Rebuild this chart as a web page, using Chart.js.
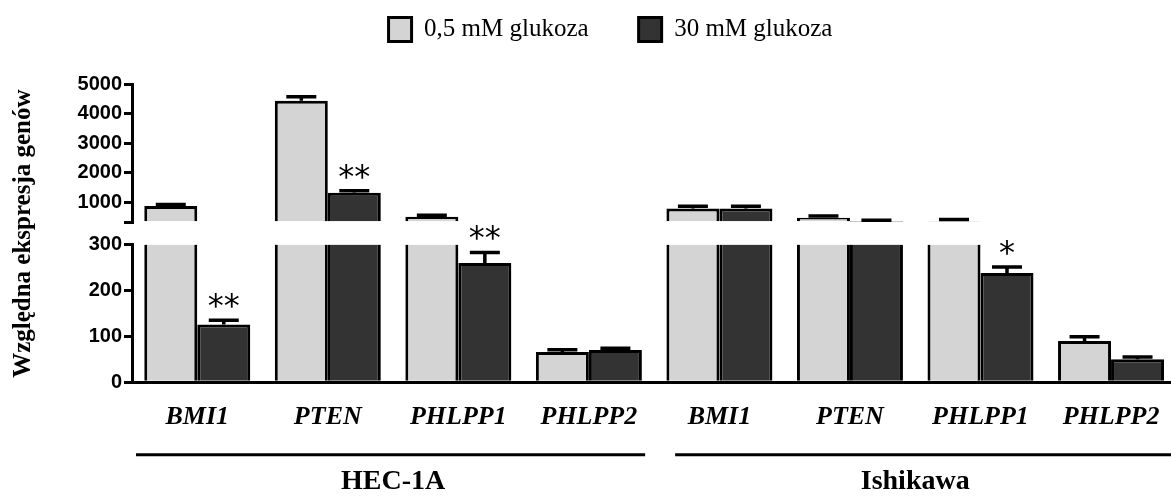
<!DOCTYPE html>
<html lang="pl">
<head>
<meta charset="utf-8">
<title>Względna ekspresja genów</title>
<script src="https://cdn.jsdelivr.net/npm/chart.js@4.4.1/dist/chart.umd.min.js"></script>
<style>
  html, body { margin: 0; padding: 0; background: #fff; overflow: hidden; }
  #wrap { width: 1221px; height: 499px; }
</style>
</head>
<body>
<div id="wrap"><canvas id="chart" width="1221" height="499"></canvas></div>
<script>
// ---- data ----
const cellLines = ['HEC-1A', 'Ishikawa'];
const genes = ['BMI1', 'PTEN', 'PHLPP1', 'PHLPP2'];
const categories = cellLines.flatMap(() => genes);

const seriesNames = ['0,5 mM glukoza', '30 mM glukoza'];
const lowGlucose     = [870, 4450, 500, 66, 780, 465, 355, 90];
const lowGlucoseErr  = [50, 135, 55, 5, 75, 65, 55, 9];
const highGlucose    = [126, 1320, 260, 70, 785, 335, 238, 50];
const highGlucoseErr = [9, 65, 23, 4, 70, 45, 13, 5];
const highGlucoseSig = ['**', '**', '**', '', '', '', '*', ''];

const axisBreak = 300;
const lowerTicks = [0, 100, 200, 300];
const upperTicks = [300, 1000, 2000, 3000, 4000, 5000];

// ---- styling ----
const series = [lowGlucose, highGlucose];
const errors = [lowGlucoseErr, highGlucoseErr];
const fills = ['#d4d4d4', '#333333'];
const INK = '#000000';
const BORDER = 3;

const tickFont = { family: '"Liberation Sans", Arial, sans-serif', size: 20, weight: 'bold' };
const serif = '"Liberation Serif", "Times New Roman", serif';

// lower segment (0..break) and upper segment (break..max) of each series
const datasets = [];
series.forEach((vals, s) => {
  datasets.push({
    label: seriesNames[s],
    data: vals.map(v => Math.min(v, axisBreak)),
    yAxisID: 'yLow',
    stack: 'series' + s,
    backgroundColor: fills[s],
    borderColor: INK,
    borderSkipped: false,
    borderWidth: ctx => ({
      top: vals[ctx.dataIndex] > axisBreak ? 0 : BORDER,
      left: BORDER, right: BORDER, bottom: 0
    })
  });
});
series.forEach((vals, s) => {
  datasets.push({
    label: seriesNames[s],
    data: vals.map(v => (v > axisBreak ? v : null)),
    yAxisID: 'yHigh',
    stack: 'series' + s,
    base: axisBreak,
    backgroundColor: fills[s],
    borderColor: INK,
    borderSkipped: false,
    borderWidth: { top: BORDER, left: BORDER, right: BORDER, bottom: 0 }
  });
});

// error whiskers and significance stars
const errorBars = {
  id: 'errorBars',
  afterDatasetsDraw(chart) {
    const { ctx } = chart;
    const low = chart.scales.yLow;
    const high = chart.scales.yHigh;
    ctx.save();
    ctx.strokeStyle = INK;
    ctx.lineWidth = 3.5;
    series.forEach((vals, s) => {
      const meta = chart.getDatasetMeta(s);
      vals.forEach((v, j) => {
        const scale = v > axisBreak ? high : low;
        const x = meta.data[j].x;
        const y0 = scale.getPixelForValue(v);
        const y1 = scale.getPixelForValue(v + errors[s][j]);
        ctx.beginPath();
        ctx.moveTo(x, y0);
        ctx.lineTo(x, y1);
        ctx.moveTo(x - 15, y1);
        ctx.lineTo(x + 15, y1);
        ctx.stroke();
        if (s === 1 && highGlucoseSig[j]) {
          ctx.fillStyle = INK;
          ctx.font = '32px "DejaVu Sans", sans-serif';
          ctx.textAlign = 'center';
          ctx.textBaseline = 'alphabetic';
          ctx.fillText(highGlucoseSig[j], x, y1 - 4);
        }
      });
    });
    ctx.restore();
  }
};

// rule under each cell line's group of genes
const cellLineRules = {
  id: 'cellLineRules',
  afterDraw(chart) {
    const { ctx } = chart;
    const x = chart.scales.x;
    const g = chart.scales.xGroup;
    const startInset = [4, 21];
    const endInset = [9, 0];
    const y = g.top + 22;
    ctx.save();
    ctx.strokeStyle = INK;
    ctx.lineWidth = 3;
    cellLines.forEach((name, i) => {
      const first = i * genes.length;
      const last = first + genes.length - 1;
      const x0 = x.getPixelForValue(first - 0.5) + startInset[i];
      const x1 = x.getPixelForValue(last + 0.5) - endInset[i];
      ctx.beginPath();
      ctx.moveTo(x0, y);
      ctx.lineTo(x1, y);
      ctx.stroke();
    });
    ctx.restore();
  }
};

const hiddenAxis = {
  display: true,
  ticks: { display: false },
  grid: { display: false, drawTicks: false },
  border: { display: false }
};

new Chart(document.getElementById('chart'), {
  type: 'bar',
  data: { labels: categories, datasets },
  options: {
    responsive: false,
    animation: false,
    events: [],
    layout: { padding: { top: -33, left: 0, right: 0, bottom: 0 } },
    datasets: { bar: { categoryPercentage: 0.812, barPercentage: 1.0 } },
    plugins: {
      tooltip: { enabled: false },
      legend: {
        position: 'top',
        align: 'center',
        labels: {
          boxWidth: 23,
          boxHeight: 24,
          padding: 50,
          color: INK,
          font: { family: serif, size: 25 },
          generateLabels: () => seriesNames.map((text, i) => ({
            text,
            fillStyle: fills[i],
            strokeStyle: INK,
            lineWidth: BORDER,
            hidden: false,
            datasetIndex: i
          }))
        }
      }
    },
    scales: {
      x: {
        type: 'category',
        position: 'bottom',
        weight: 0,
        offset: true,
        afterFit: s => { s.height = 50.6; },
        grid: { display: false, drawTicks: false },
        border: { display: true, color: INK, width: BORDER },
        ticks: {
          autoSkip: false, maxRotation: 0, padding: 19.4, color: INK,
          font: { family: serif, size: 26, weight: 'bold', style: 'italic' }
        }
      },
      xGroup: {
        type: 'category',
        axis: 'x',
        position: 'bottom',
        weight: 1,
        labels: cellLines,
        offset: true,
        afterFit: s => { s.height = 66.2; },
        grid: { display: false, drawTicks: false },
        border: { display: false },
        ticks: {
          autoSkip: false, maxRotation: 0, padding: 32.6, color: INK,
          font: { family: serif, size: 28, weight: 'bold' }
        }
      },
      xPad: Object.assign({}, hiddenAxis, {
        type: 'category', axis: 'x', position: 'top',
        afterFit: s => { s.height = 32.5; }
      }),
      yPad: Object.assign({}, hiddenAxis, {
        type: 'linear', axis: 'y', position: 'right',
        afterFit: s => { s.width = 44.7; }
      }),
      yHigh: {
        type: 'linear', axis: 'y', position: 'left',
        stack: 'value', stackWeight: 138.1, weight: 3,
        stacked: false,
        min: axisBreak, max: upperTicks[upperTicks.length - 1],
        afterBuildTicks: s => { s.ticks = upperTicks.map(value => ({ value })); },
        afterFit: s => { s.width = 132; },
        grid: { display: true, drawOnChartArea: false, drawTicks: true, tickLength: 8, color: INK, lineWidth: BORDER },
        border: { display: true, color: INK, width: BORDER },
        ticks: {
          autoSkip: false, padding: 2, color: INK, font: tickFont,
          callback: v => (v === axisBreak ? '' : String(v))
        }
      },
      yGap: Object.assign({}, hiddenAxis, {
        type: 'linear', axis: 'y', position: 'left',
        stack: 'value', stackWeight: 21.9, weight: 2,
        afterFit: s => { s.width = 132; },
        title: {
          display: true,
          text: 'Względna ekspresja genów',
          color: INK,
          padding: { top: 9, bottom: 0 },
          font: { family: serif, size: 25, weight: 'bold' }
        }
      }),
      yLow: {
        type: 'linear', axis: 'y', position: 'left',
        stack: 'value', stackWeight: 137.5, weight: 1,
        stacked: false,
        min: 0, max: axisBreak,
        afterBuildTicks: s => { s.ticks = lowerTicks.map(value => ({ value })); },
        afterFit: s => { s.width = 132; },
        grid: { display: true, drawOnChartArea: false, drawTicks: true, tickLength: 8, color: INK, lineWidth: BORDER },
        border: { display: true, color: INK, width: BORDER },
        ticks: { autoSkip: false, padding: 2, color: INK, font: tickFont }
      }
    }
  },
  plugins: [errorBars, cellLineRules]
});
</script>
</body>
</html>
